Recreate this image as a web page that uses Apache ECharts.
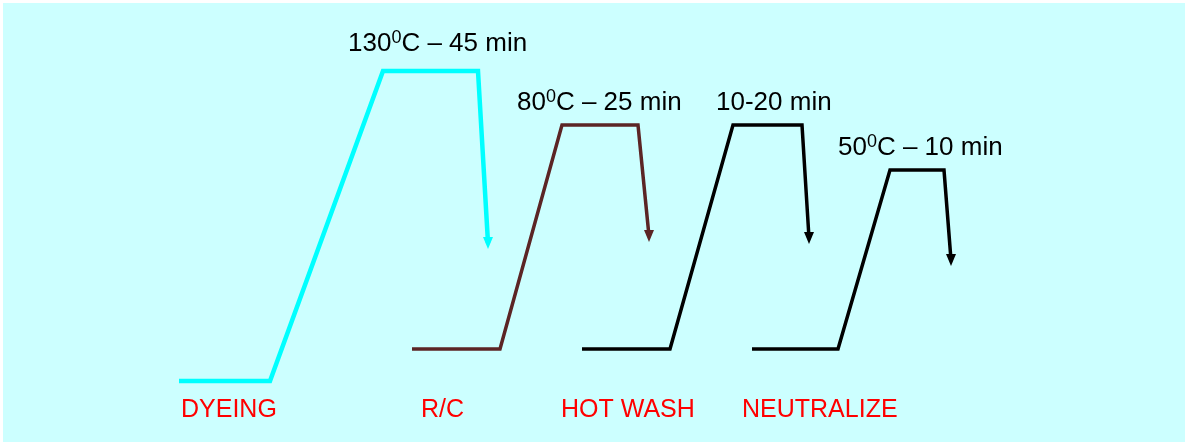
<!DOCTYPE html>
<html><head><meta charset="utf-8">
<script src="https://cdn.jsdelivr.net/npm/echarts@6/dist/echarts.min.js"></script>
<style>html,body{margin:0;padding:0;background:#fff}#c{width:1187px;height:445px}</style>
</head><body><div id="c"></div>
<script>
// Process profiles: [time position, temperature level]
const dyeing = [[179,64],[270,64],[383,374],[478,374],[488,202]];
const reductionClear = [[412,96],[500,96],[562,320],[638,320],[649,209]];
const hotWash = [[582,96],[670,96],[733,320],[802,320],[809,207]];
const neutralize = [[752,96],[838,96],[890,275],[944,275],[951,185]];
const stageNames = ['DYEING','R/C','HOT WASH','NEUTRALIZE'];
const stageLabelPos = [[181,35],[421,35],[561,35],[742,35]];
const condText = ['130{s|0}C – 45 min','80{s|0}C – 25 min','10-20 min','50{s|0}C – 10 min'];
const condPos = [[348,401],[517,342],[716,342],[838,297]];
const colors = ['#00FFFF','#5B2525','#000000','#000000'];
const widths = [4.5,3.5,3.5,3.5];

const FONT = '"Liberation Sans Narrow","Arial Narrow","Liberation Sans",sans-serif';
function mk(pts, i){
  return {
    type:'line', data: pts.map((p,k)=> k===pts.length-1 ?
      {value:p, symbol:'triangle', symbolRotate:180, symbolSize:[10,12], itemStyle:{color:colors[i]}} :
      {value:p, symbol:'none'}),
    lineStyle:{color:colors[i], width:widths[i], join:'miter'},
    showSymbol:true, silent:true, animation:false, z:3
  };
}
const series = [dyeing, reductionClear, hotWash, neutralize].map(mk);
series.push({
  type:'scatter', symbolSize:0, animation:false, silent:true, itemStyle:{opacity:1},
  data: stageNames.map((n,i)=>({value:stageLabelPos[i], name:n})),
  label:{show:true, position:'right', distance:0, formatter:p=>p.name, color:'#FF0000', fontSize:25, fontFamily:FONT}
});
series.push({
  type:'scatter', symbolSize:0, animation:false, silent:true, itemStyle:{opacity:1},
  data: condText.map((n,i)=>({value:condPos[i], name:n})),
  label:{show:true, position:'right', distance:0, formatter:p=>p.name, color:'#000', fontSize:26, fontFamily:FONT,
    rich:{s:{fontSize:18, fontFamily:FONT, color:'#000', verticalAlign:'top', padding:[0,0,12,0]}}}
});
const chart = echarts.init(document.getElementById('c'), null, {renderer:'canvas'});
chart.setOption({
  backgroundColor:'#ffffff',
  animation:false,
  grid:{left:3, top:3, width:1182, height:439, show:true, backgroundColor:'#CCFFFF', borderWidth:0},
  xAxis:{type:'value', min:3, max:1185, show:false},
  yAxis:{type:'value', min:3, max:442, show:false},
  series
});
</script></body></html>
